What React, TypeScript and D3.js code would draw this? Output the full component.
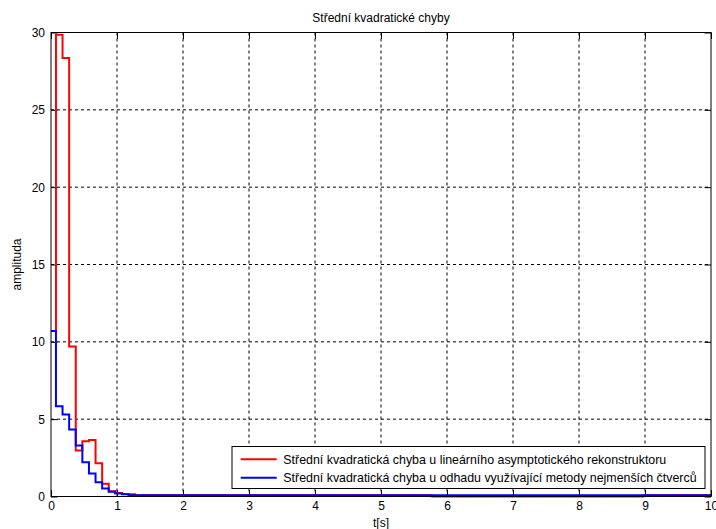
import React, { useRef, useEffect } from 'react';
import * as d3 from 'd3';

// step times [s] shared by both series (stairs plot)
const TIMES = [0, 0.075, 0.175, 0.275, 0.375, 0.475, 0.575, 0.675, 0.775, 0.875, 0.975, 1.075, 1.175, 1.275, 5.775, 8.975, 10];
const RED_VALUES = [10.7, 29.85, 28.35, 9.7, 2.97, 3.58, 3.66, 2.15, 0.82, 0.34, 0.22, 0.16, 0.14, 0.08, 0.0, 0.08, 0.08];
const BLUE_VALUES = [10.7, 5.84, 5.3, 4.33, 3.3, 2.22, 1.49, 0.92, 0.52, 0.3, 0.2, 0.14, 0.08, 0.08, 0.08, 0.08, 0.08];

const X_TICKS = [0, 1, 2, 3, 4, 5, 6, 7, 8, 9, 10];
const Y_TICKS = [0, 5, 10, 15, 20, 25, 30];

const SERIES = [
    { label: "Střední kvadratická chyba u lineárního asymptotického rekonstruktoru", color: "#ff0000", values: RED_VALUES },
    { label: "Střední kvadratická chyba u odhadu využívající metody nejmenších čtverců", color: "#0000ff", values: BLUE_VALUES }
];

const WIDTH = 716;
const HEIGHT = 529;
const FONT = "'Liberation Sans', Arial, sans-serif";

const App: React.FC = () => {
    const svgRef = useRef<SVGSVGElement>(null);

    useEffect(() => {
        document.body.style.margin = "0";
        if (!svgRef.current) return;

        const svg = d3.select(svgRef.current);
        svg.selectAll("*").remove();

        const margin = { top: 32.5, right: 5, bottom: 32.5, left: 51 };
        const width = WIDTH - margin.left - margin.right;
        const height = HEIGHT - margin.top - margin.bottom;

        const xScale = d3.scaleLinear().domain([0, 10]).range([0, width]);
        const yScale = d3.scaleLinear().domain([0, 30]).range([height, 0]);

        svg.append("rect").attr("width", WIDTH).attr("height", HEIGHT).attr("fill", "#fff");

        const g = svg.append("g").attr("transform", `translate(${margin.left},${margin.top})`);

        // grid
        g.append("g")
            .selectAll("line")
            .data(X_TICKS.slice(1, -1))
            .join("line")
            .attr("x1", d => xScale(d)).attr("x2", d => xScale(d))
            .attr("y1", 0).attr("y2", height)
            .attr("stroke", "#000")
            .attr("stroke-dasharray", "3,3");

        g.append("g")
            .selectAll("line")
            .data(Y_TICKS.slice(1, -1))
            .join("line")
            .attr("y1", d => yScale(d)).attr("y2", d => yScale(d))
            .attr("x1", 0).attr("x2", width)
            .attr("stroke", "#000")
            .attr("stroke-dasharray", "3,3");

        // axes (ticks inward on all sides)
        const tick = 6.5;
        const axisStyle = (sel: any) => {
            sel.select(".domain").remove();
            sel.selectAll("text").style("font-family", FONT).style("font-size", "12px").attr("fill", "#000");
            sel.selectAll("line").attr("stroke", "#000");
        };

        g.append("g")
            .attr("transform", `translate(0,${height})`)
            .call(d3.axisBottom(xScale).tickValues(X_TICKS).tickSize(-tick).tickPadding(5).tickFormat(d3.format("d")))
            .call(axisStyle);

        g.append("g")
            .call(d3.axisTop(xScale).tickValues(X_TICKS).tickSize(-tick).tickFormat(() => ""))
            .call(axisStyle);

        g.append("g")
            .call(d3.axisLeft(yScale).tickValues(Y_TICKS).tickSize(-tick).tickPadding(6).tickFormat(d3.format("d")))
            .call(axisStyle);

        g.append("g")
            .attr("transform", `translate(${width},0)`)
            .call(d3.axisRight(yScale).tickValues(Y_TICKS).tickSize(-tick).tickFormat(() => ""))
            .call(axisStyle);

        // series
        const clipId = "plot-clip";
        g.append("clipPath").attr("id", clipId)
            .append("rect").attr("x", 0).attr("y", -2).attr("width", width).attr("height", height + 4);

        const line = d3.line<number>()
            .x((_, i) => xScale(TIMES[i]))
            .y(d => yScale(d))
            .curve(d3.curveStepAfter);

        SERIES.forEach(s => {
            g.append("path")
                .datum(s.values)
                .attr("d", line)
                .attr("fill", "none")
                .attr("stroke", s.color)
                .attr("stroke-width", 2)
                .attr("clip-path", `url(#${clipId})`);
        });

        // box
        g.append("rect")
            .attr("width", width).attr("height", height)
            .attr("fill", "none").attr("stroke", "#000");

        // title + labels
        svg.append("text")
            .attr("x", margin.left + width / 2)
            .attr("y", 22)
            .attr("text-anchor", "middle")
            .style("font-family", FONT).style("font-size", "12px")
            .text("Střední kvadratické chyby");

        svg.append("text")
            .attr("x", margin.left + width / 2)
            .attr("y", 527)
            .attr("text-anchor", "middle")
            .style("font-family", FONT).style("font-size", "12px")
            .text("t[s]");

        svg.append("text")
            .attr("transform", `translate(21,${margin.top + height / 2}) rotate(-90)`)
            .attr("text-anchor", "middle")
            .style("font-family", FONT).style("font-size", "12px")
            .text("amplituda");

        // legend
        const legend = svg.append("g").attr("transform", "translate(232,446.5)");
        legend.append("rect")
            .attr("width", 473).attr("height", 42)
            .attr("fill", "#fff").attr("stroke", "#000");

        SERIES.forEach((s, i) => {
            const row = legend.append("g").attr("transform", `translate(0,${12.8 + i * 18.4})`);
            row.append("line")
                .attr("x1", 8.7).attr("x2", 44.7)
                .attr("stroke", s.color).attr("stroke-width", 2);
            row.append("text")
                .attr("x", 51.3).attr("y", 4.4)
                .style("font-family", FONT).style("font-size", "12.4px")
                .text(s.label);
        });
    }, []);

    return <svg ref={svgRef} width={WIDTH} height={HEIGHT} style={{ display: "block" }} />;
};

export default App;
